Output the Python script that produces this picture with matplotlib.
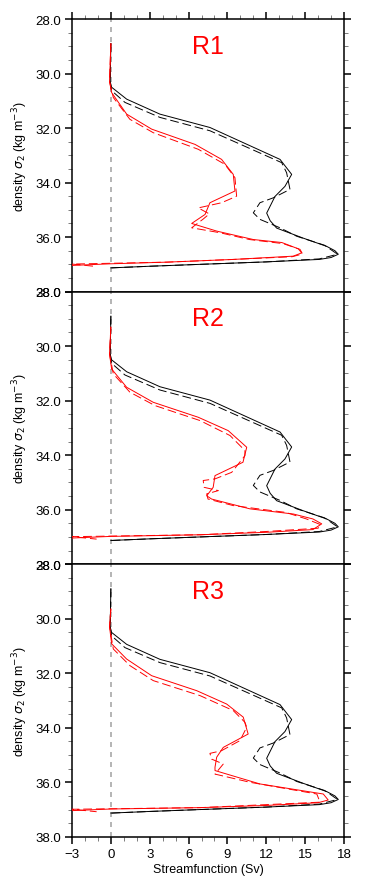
#!/usr/bin/env python3
# -*- coding: utf-8 -*-
import numpy as np
import matplotlib as mpl
mpl.use('Agg')
import matplotlib.pyplot as plt

plt.rcParams['font.family'] = ['Liberation Sans', 'DejaVu Sans']
plt.rcParams['mathtext.fontset'] = 'dejavusans'

### DATA --------------------------------------------------------------------------
# black curves (same in all panels): density levels, streamfunction (Sv)
blk_sol_d = [28.9, 30.3, 30.5, 30.94, 31.49, 31.98, 33.15, 33.70, 34.14, 34.51, 35.12,
             35.40, 35.67, 36.04, 36.34, 36.50, 36.63, 36.75, 36.82, 36.91, 37.0, 37.07, 37.13]
blk_sol_v = [0.0, -0.05, 0.05, 1.22, 3.79, 7.65, 13.06, 13.96, 13.44, 12.67, 12.03,
             12.3, 12.8, 14.86, 16.66, 17.3, 17.56, 17.0, 16.1, 12.0, 6.9, 3.0, 0.0]
blk_das_d = [28.9, 30.3, 30.63, 31.06, 31.61, 32.1, 33.27, 33.64, 34.25, 34.56, 34.74,
             35.11, 35.35, 35.66, 35.97, 36.30, 36.63, 36.80, 36.91, 37.0, 37.07, 37.13]
blk_das_v = [0.0, -0.05, 0.06, 1.09, 3.79, 7.65, 13.19, 13.57, 13.83, 12.54, 11.51,
             11.0, 11.51, 13.06, 14.35, 16.5, 17.5, 16.1, 12.0, 6.9, 3.0, 0.0]

# red curves, one pair per region
r1_sol_d = [28.9, 30.3, 30.7, 31.49, 32.04, 32.6, 33.15, 33.7, 34.31, 34.74, 35.17, 35.5,
            35.78, 36.09, 36.2, 36.43, 36.58, 36.70, 36.82, 36.92, 36.98, 37.04]
r1_sol_v = [0.0, -0.1, 0.06, 1.22, 3.15, 6.5, 8.55, 9.45, 9.58, 7.65, 7.27, 6.24,
            8.17, 11.0, 13.2, 14.47, 14.73, 14.08, 9.45, 4.3, 0.0, -3.0]
r1_das_d = [28.9, 30.3, 30.88, 31.68, 32.17, 32.78, 33.33, 33.82, 34.5, 34.74, 34.93, 35.15,
            35.35, 35.66, 35.84, 36.09, 36.24, 36.45, 36.62, 36.72, 36.82, 36.92, 36.99, 37.08]
r1_das_v = [0.0, -0.1, 0.19, 1.47, 3.27, 6.75, 8.8, 9.58, 9.71, 8.55, 6.75, 7.6,
            7.1, 6.24, 8.42, 10.7, 13.3, 14.6, 14.8, 14.0, 9.45, 4.3, -3.0, -1.1]

r2_sol_d = [29.3, 30.3, 30.84, 31.51, 32.06, 32.61, 33.1, 33.71, 34.26, 34.75, 35.18, 35.49,
            35.61, 35.97, 36.16, 36.34, 36.52, 36.73, 36.83, 36.92, 36.98, 37.04]
r2_sol_v = [0.0, -0.1, 0.06, 1.22, 3.27, 6.75, 9.06, 10.49, 10.2, 8.04, 7.9, 7.4,
            7.78, 10.74, 14.1, 15.6, 16.28, 15.6, 12.0, 6.9, 0.0, -3.0]
r2_das_d = [29.3, 30.3, 31.02, 31.69, 32.18, 32.73, 33.28, 33.83, 34.02, 34.63, 34.87, 34.93,
            35.18, 35.3, 35.42, 35.61, 35.85, 36.1, 36.34, 36.55, 36.68, 36.8, 36.92, 36.99, 37.08]
r2_das_v = [0.0, -0.1, 0.19, 1.47, 3.4, 6.88, 9.2, 10.35, 10.35, 9.33, 8.04, 7.13,
            7.2, 8.3, 7.4, 7.5, 9.45, 13.5, 15.1, 16.2, 16.0, 12.0, 6.9, -3.0, -1.1]

r3_sol_d = [29.64, 30.3, 30.92, 31.48, 32.09, 32.64, 33.13, 33.61, 34.23, 34.72, 35.08, 35.45,
            35.57, 36.06, 36.43, 36.65, 36.75, 36.85, 36.93, 36.98, 37.04]
r3_sol_v = [0.0, -0.1, 0.06, 1.22, 3.15, 6.63, 8.94, 10.22, 10.6, 8.68, 8.17, 8.04,
            8.04, 11.5, 16.4, 16.78, 16.0, 12.0, 6.9, 0.0, -3.0]
r3_das_d = [29.64, 30.3, 31.11, 31.72, 32.27, 32.82, 33.37, 33.8, 33.98, 34.47, 34.84, 34.94,
            35.15, 35.33, 35.7, 36.0, 36.43, 36.73, 36.82, 36.93, 36.99, 37.08]
r3_das_v = [0.0, -0.1, 0.19, 1.47, 3.27, 6.88, 9.45, 10.35, 10.49, 9.97, 8.55, 7.65,
            7.78, 8.68, 8.04, 10.74, 15.9, 16.15, 12.0, 6.9, -3.0, -1.1]

regions = ['R1', 'R2', 'R3']
red_sol = [(r1_sol_d, r1_sol_v), (r2_sol_d, r2_sol_v), (r3_sol_d, r3_sol_v)]
red_das = [(r1_das_d, r1_das_v), (r2_das_d, r2_das_v), (r3_das_d, r3_das_v)]

yticks = [28.0, 30.0, 32.0, 34.0, 36.0, 38.0]
xticks = [-3, 0, 3, 6, 9, 12, 15, 18]
###--------------------------------------------------------------------------------

fig = plt.figure(figsize=(3.65, 8.95), dpi=100)

left, width = 72 / 365, 272 / 365
h = 272.6 / 895
tops = [20, 292.6, 565.2]

dash = (0, (9, 4))

for i, name in enumerate(regions):
    bottom = 1 - (tops[i] + 272.6) / 895
    ax = fig.add_axes([left, bottom, width, h])

    ax.axvline(0, color='#a8a8a8', lw=1.2, ls=(0, (3, 3)), zorder=1)

    ax.plot(blk_sol_v, blk_sol_d, color='black', lw=0.7, zorder=3)
    ax.plot(blk_das_v, blk_das_d, color='black', lw=0.7, ls=dash, zorder=3)
    ax.plot(red_sol[i][1], red_sol[i][0], color='red', lw=0.7, zorder=4)
    ax.plot(red_das[i][1], red_das[i][0], color='red', lw=0.7, ls=dash, zorder=4)

    ax.set_xlim(-3, 18)
    ax.set_ylim(38, 28)
    ax.set_yticks(yticks)
    ax.set_yticklabels(['%.1f' % t for t in yticks])
    ax.set_yticks(np.arange(28, 38.01, 0.5), minor=True)
    ax.set_xticks(xticks)
    ax.set_xticks(np.arange(-3, 18.01, 1), minor=True)

    for s in ax.spines.values():
        s.set_linewidth(1.1)

    ax.tick_params(axis='y', which='major', direction='out', length=5, width=1.1,
                   left=True, right=True, labelsize=9.5, pad=3)
    ax.tick_params(axis='y', which='minor', direction='out', length=3, width=0.6,
                   left=True, right=True, color='#666666')

    top_on = (i == 0)
    bot_on = (i == 2)
    ax.tick_params(axis='x', which='major', direction='out', length=5, width=1.1,
                   top=top_on, bottom=bot_on, labelbottom=bot_on, labeltop=False,
                   labelsize=9.5, pad=3)
    ax.tick_params(axis='x', which='minor', direction='out', length=3, width=0.6,
                   top=top_on, bottom=bot_on, color='#666666')

    ax.set_ylabel(r'density $\sigma_2$ (kg m$^{-3}$)', fontsize=9, labelpad=4)
    ax.text(0.5, 0.902, name, transform=ax.transAxes, color='red', fontsize=18,
            ha='center', va='center')

    if bot_on:
        ax.set_xlabel('Streamfunction (Sv)', fontsize=9, labelpad=2)

fig.savefig('out.png', dpi=100)
plt.close()
